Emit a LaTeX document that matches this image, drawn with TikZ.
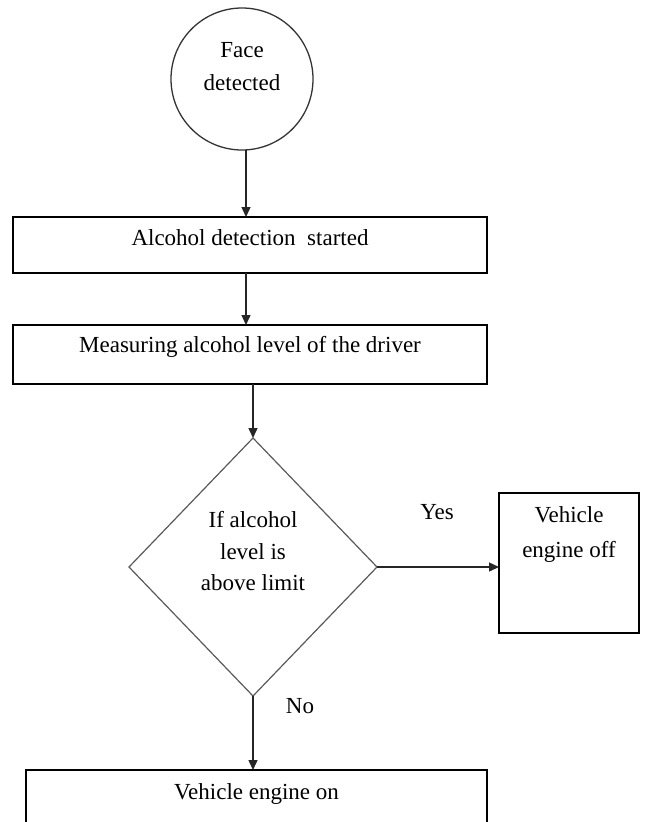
\documentclass[tikz,border=0pt]{standalone}
\usepackage{fontspec}
\setmainfont{Liberation Serif}
\usetikzlibrary{shapes.geometric,arrows.meta}
\begin{document}
\begin{tikzpicture}[x=1pt,y=-1pt,
  every node/.style={font=\fontsize{23}{33}\selectfont, inner sep=0pt, outer sep=0pt, text=black},
  boxnode/.style={draw=black, line width=1.6pt, rectangle},
  arr/.style={draw=black!85, line width=1.4pt, -{Triangle[length=10pt,width=9pt]}}
]
\useasboundingbox (0,0) rectangle (646,822);
\clip (0,0) rectangle (646,822);
\node[circle, draw=black!80, line width=1.3pt, minimum size=142pt, text height=20pt, text depth=62.8pt] (face) at (242,79)
  {\begin{tabular}[t]{@{}c@{}}Face\\detected\end{tabular}};
\node[boxnode, minimum width=474pt, text height=28pt, text depth=28pt] (b1) at (250,245) {Alcohol detection\ \ started};
\node[boxnode, minimum width=474pt, text height=27.6pt, text depth=31.4pt] (b2) at (250,354.5) {Measuring alcohol level of the driver};
\node[diamond, draw=black!65, line width=1.2pt, minimum width=248pt, minimum height=258pt, text height=20pt, text depth=98.8pt,
  font=\fontsize{23}{31.5}\selectfont] (dec) at (253,567)
  {\begin{tabular}[t]{@{}c@{}}If alcohol\\level is\\above limit\end{tabular}};
\node[boxnode, minimum width=140pt, text height=29.6pt, text depth=110.4pt, font=\fontsize{23}{35}\selectfont] (b3) at (569,563)
  {\begin{tabular}[t]{@{}c@{}}Vehicle\\engine off\end{tabular}};
\node[boxnode, minimum width=461pt, text height=29.6pt, text depth=50pt] (b4) at (256.5,809.8) {Vehicle engine on};
\node (yes) at (437,512) {Yes};
\node (no) at (300,706) {No};
\draw[arr] ([xshift=4pt]face.south) -- ([xshift=-4pt]b1.north);
\draw[arr] ([xshift=-4pt]b1.south) -- ([xshift=-4pt]b2.north);
\draw[arr] ([xshift=3pt]b2.south) -- (dec.north);
\draw[arr] (dec.east) -- (dec.east -| b3.west);
\draw[arr] (dec.south) -- (dec.south |- b4.north);
\end{tikzpicture}
\end{document}
